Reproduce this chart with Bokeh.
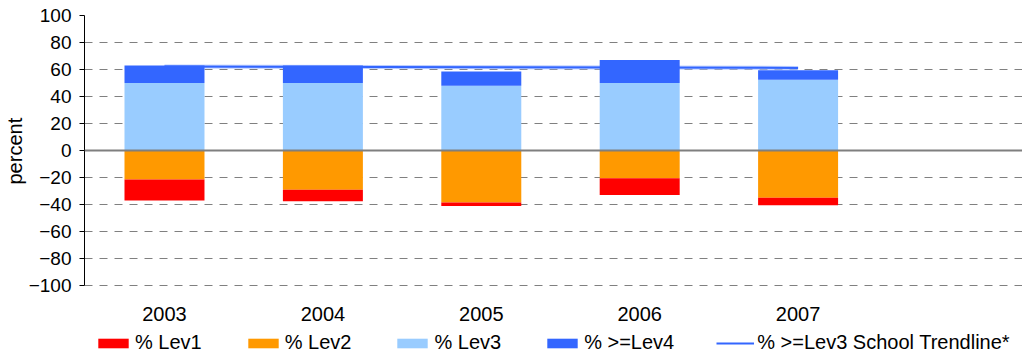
from bokeh.plotting import figure
from bokeh.models import (ColumnDataSource, Range1d, FixedTicker, Span, Legend, LegendItem, Title)
from bokeh.embed import file_html
from bokeh.resources import INLINE

# ---- data ----
years = ["2003", "2004", "2005", "2006", "2007"]
lev1 = [15.5, 8.5, 2.7, 12.5, 5.5]      # % Lev1 (negative side, outer)
lev2 = [21.5, 29.0, 38.5, 20.5, 35.0]   # % Lev2 (negative side, inner)
lev3 = [50.0, 50.0, 48.0, 50.0, 52.5]   # % Lev3 (positive side, inner)
lev4 = [13.0, 13.0, 10.5, 17.0, 7.0]    # % >=Lev4 (positive side, outer)
trend_years = ["2003", "2007"]
trend_values = [62.2, 61.2]
y_ticks = [-100, -80, -60, -40, -20, 0, 20, 40, 60, 80, 100]

FONT = "Liberation Sans"
C_L1, C_L2, C_L3, C_L4 = "#FF0000", "#FF9900", "#99CCFF", "#3366FF"

xpos = list(range(len(years)))
src = ColumnDataSource(dict(
    x=xpos,
    l3_bot=[0] * len(years), l3_top=lev3,
    l4_bot=lev3, l4_top=[a + b for a, b in zip(lev3, lev4)],
    l2_top=[0] * len(years), l2_bot=[-v for v in lev2],
    l1_top=[-v for v in lev2], l1_bot=[-(a + b) for a, b in zip(lev2, lev1)],
))
tsrc = ColumnDataSource(dict(x=[years.index(y) for y in trend_years], y=trend_values))

W_FIG, H_FIG = 1022, 354
LEFT, TOP = 84, 15
PX_PER_CAT = 158.4
PX_PER_PCT = 1.35
EXTRA_BELOW = H_FIG - TOP - 200 * PX_PER_PCT   # room under -100 for labels and legend

p = figure(width=W_FIG, height=H_FIG, output_backend="svg", toolbar_location=None,
           x_range=Range1d(-0.505, -0.505 + (W_FIG - LEFT) / PX_PER_CAT),
           y_range=Range1d(-100 - EXTRA_BELOW / PX_PER_PCT, 100),
           min_border_left=LEFT, min_border_right=0, min_border_top=TOP, min_border_bottom=0)
p.outline_line_color = None
p.background_fill_color = "white"
p.border_fill_color = "white"

# trendline behind the bars
p.line("x", "y", source=tsrc, line_color="#A9C1FF", line_width=4, line_alpha=0.8)
tl = p.line("x", "y", source=tsrc, line_color="#3366FF", line_width=2)

W = 0.505
r3 = p.vbar(x="x", bottom="l3_bot", top="l3_top", width=W, source=src, fill_color=C_L3, line_color=None)
r4 = p.vbar(x="x", bottom="l4_bot", top="l4_top", width=W, source=src, fill_color=C_L4, line_color=None)
r2 = p.vbar(x="x", bottom="l2_bot", top="l2_top", width=W, source=src, fill_color=C_L2, line_color=None)
r1 = p.vbar(x="x", bottom="l1_bot", top="l1_top", width=W, source=src, fill_color=C_L1, line_color=None)

p.add_layout(Span(location=0, dimension="width", line_color="#7F7F7F", line_width=2))

# y axis
p.yaxis.ticker = FixedTicker(ticks=y_ticks)
p.yaxis.bounds = (-100, 100)
p.yaxis.axis_line_color = "black"
p.yaxis.major_tick_line_color = "black"
p.yaxis.major_tick_out = 5
p.yaxis.major_tick_in = 0
p.yaxis.minor_tick_line_color = None
p.yaxis.major_label_standoff = 8
p.yaxis.major_label_text_font = FONT
p.yaxis.major_label_text_font_size = "19px"
p.yaxis.major_label_text_color = "black"

ylab = Title(text="percent", align="left", offset=170, standoff=0,
             text_font=FONT, text_font_size="20px", text_font_style="normal", text_color="black")
p.add_layout(ylab, "left")

# x axis: labels hang below the -100 line
p.xaxis.ticker = FixedTicker(ticks=xpos)
p.xaxis.fixed_location = -100
p.xaxis.major_label_overrides = {i: y for i, y in zip(xpos, years)}
p.xaxis.axis_line_color = None
p.xaxis.major_tick_line_color = None
p.xaxis.minor_tick_line_color = None
p.xaxis.major_tick_out = 0
p.xaxis.major_label_standoff = 21
p.xaxis.major_label_text_font = FONT
p.xaxis.major_label_text_font_size = "20px"
p.xaxis.major_label_text_color = "black"

p.xgrid.grid_line_color = None
p.ygrid.ticker = FixedTicker(ticks=y_ticks)
p.ygrid.grid_line_color = "#808080"
p.ygrid.grid_line_width = 1
p.ygrid.grid_line_dash = "8 7"

legend = Legend(items=[
    LegendItem(label="% Lev1", renderers=[r1]),
    LegendItem(label="% Lev2", renderers=[r2]),
    LegendItem(label="% Lev3", renderers=[r3]),
    LegendItem(label="% >=Lev4", renderers=[r4]),
    LegendItem(label="% >=Lev3 School Trendline*", renderers=[tl]),
], location=(10, 0), orientation="horizontal")
legend.label_text_font = FONT
legend.label_text_font_size = "20px"
legend.label_text_color = "black"
legend.glyph_width = 38
legend.glyph_height = 12
legend.label_standoff = 3
legend.spacing = 42
legend.padding = 0
legend.margin = 0
legend.border_line_color = None
legend.background_fill_alpha = 0
p.add_layout(legend, "center")

open("out.html", "w").write(file_html(p, INLINE))
